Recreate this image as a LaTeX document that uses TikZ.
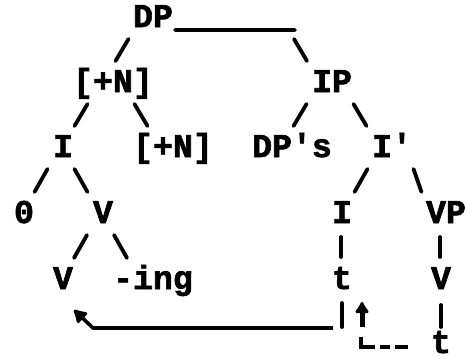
\documentclass[tikz,border=0pt]{standalone}
\usepackage{fontspec}
\newfontfamily\monofnt{Liberation Mono}[BoldFeatures={FakeBold=2}]
\usetikzlibrary{arrows.meta}
\begin{document}
\begin{tikzpicture}[x=1pt,y=-1pt,
  lbl/.style={font=\fontsize{33.2}{34}\selectfont\monofnt\bfseries, inner sep=0pt, anchor=base},
  conn/.style={line width=3.8pt, line cap=round},
  upmv/.style={line width=5pt, -{Latex[length=13pt 0,width=17pt 0,round]}},
  leftmv/.style={line width=3.6pt, line join=round, -{Latex[length=15pt 0,width=18pt 0,round]}},
  dashmv/.style={line width=3.6pt, dash pattern=on 13pt off 5pt on 10pt off 5pt on 30pt}]
\useasboundingbox (0,0) rectangle (467,360);
% nodes
\node[lbl] (dp)   at (153,27)  {DP};
\node[lbl] (n1)   at (113,92)  {[+N]};
\node[lbl] (ip)   at (332,92)  {IP};
\node[lbl] (i1)   at (63,157)  {I};
\node[lbl] (n2)   at (173,157) {[+N]};
\node[lbl] (dps)  at (292,157) {DP's};
\node[lbl] (ib)   at (392,157) {I'};
\node[lbl] (zero) at (24,223)  {0};
\node[lbl] (v1)   at (103,223) {V};
\node[lbl] (i2)   at (342,223) {I};
\node[lbl] (vp)   at (446,223) {VP};
\node[lbl] (v2)   at (63,289)  {V};
\node[lbl] (ing)  at (153,289) {-ing};
\node[lbl] (t1)   at (342,289) {t};
\node[lbl] (v3)   at (441,289) {V};
\node[lbl] (t2)   at (441,353) {t};
\coordinate (tgt) at (362,302);
% tree connectors
\draw[conn] ([shift={(-24.5,12)}]dp.base) -- ([shift={(2.5,-31)}]n1.base);
\draw[conn] ([shift={(22,3)}]dp.base) -- ([shift={(142,3)}]dp.base)
            ([shift={(141,12)}]dp.base) -- ([shift={(-25,-31)}]ip.base);
\draw[conn] ([shift={(-25.5,12)}]n1.base) -- ([shift={(11.5,-31)}]i1.base);
\draw[conn] ([shift={(21.5,12)}]n1.base) -- ([shift={(-25.5,-31)}]n2.base);
\draw[conn] ([shift={(-25.5,12)}]ip.base) -- ([shift={(1.5,-31)}]dps.base);
\draw[conn] ([shift={(21.5,12)}]ip.base) -- ([shift={(-25.5,-31)}]ib.base);
\draw[conn] ([shift={(-15.5,12)}]i1.base) -- ([shift={(10.5,-31)}]zero.base);
\draw[conn] ([shift={(11.5,12)}]i1.base) -- ([shift={(-15.5,-31)}]v1.base);
\draw[conn] ([shift={(-24.5,12)}]ib.base) -- ([shift={(12.5,-31)}]i2.base);
\draw[conn] ([shift={(21.5,12)}]ib.base) -- ([shift={(-24.5,-31)}]vp.base);
\draw[conn] ([shift={(-16,12)}]v1.base) -- ([shift={(11,-31)}]v2.base);
\draw[conn] ([shift={(11,12)}]v1.base) -- ([shift={(-26,-31)}]ing.base);
\draw[conn] ([shift={(-1,14)}]i2.base) -- ([shift={(-1,-32)}]t1.base);
\draw[conn] ([shift={(-6,14)}]vp.base) -- ([shift={(-1,-32)}]v3.base);
\draw[conn] ([shift={(0,16)}]v3.base) -- ([shift={(0,-26)}]t2.base);
% movement
\draw[conn] ([shift={(0,14)}]t1.base) -- ([shift={(0,38)}]t1.base);
\draw[leftmv] ([shift={(-9,39)}]t1.base) -- ([shift={(30,39)}]v2.base) -- ([shift={(11,21)}]v2.base);
\draw[dashmv] ([shift={(-33,-6)}]t2.base) -- ([shift={(-80,-6)}]t2.base) -- ([shift={(-80,-16)}]t2.base);
\draw[upmv] ([shift={(-79,-26)}]t2.base) -- (tgt);
\end{tikzpicture}
\end{document}
